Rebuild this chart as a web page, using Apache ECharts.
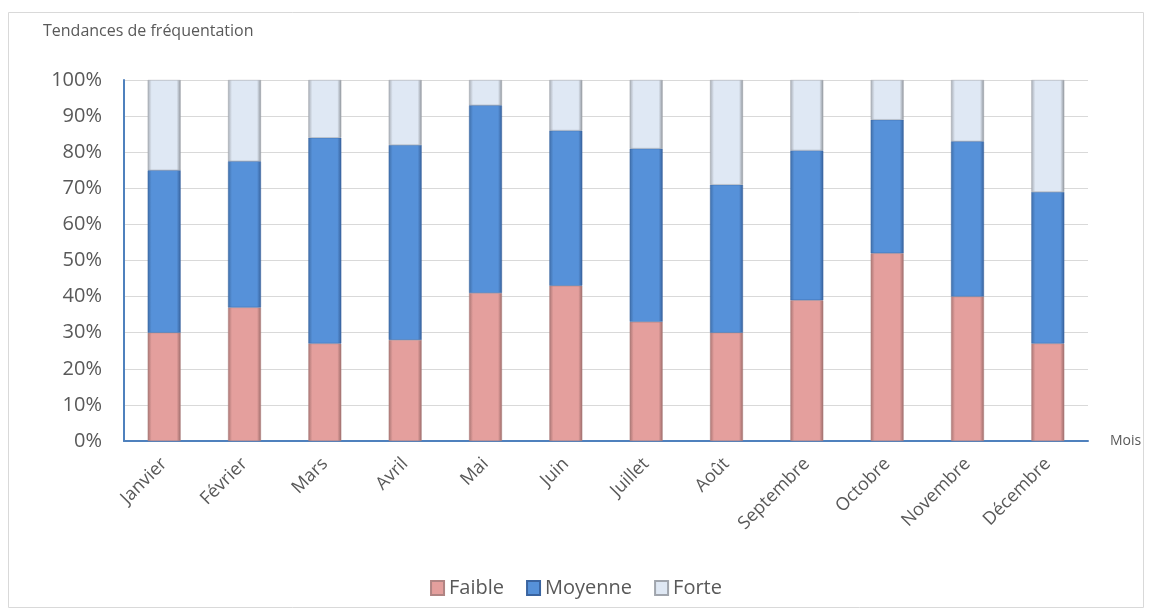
<!DOCTYPE html>
<html><head><meta charset="utf-8">
<script src="https://cdn.jsdelivr.net/npm/echarts@6/dist/echarts.min.js"></script>
<style>html,body{margin:0;padding:0;background:#fff}#c{width:1152px;height:616px}</style>
</head><body><div id="c"></div>
<script>
const months = ['Janvier','Février','Mars','Avril','Mai','Juin','Juillet','Août','Septembre','Octobre','Novembre','Décembre'];
const faible  = [30, 37, 27, 28, 41, 43, 33, 30, 39, 52, 40, 27];
const moyenne = [45, 40.5, 57, 54, 52, 43, 48, 41, 41.5, 37, 43, 42];
const forte   = [25, 22.5, 16, 18, 7, 14, 19, 29, 19.5, 11, 17, 31];
const yTicks = [0,10,20,30,40,50,60,70,80,90,100];

function grad(edge, mid, edge2){
  return {type:'linear',x:0,y:0,x2:1,y2:0,colorStops:[
    {offset:0,color:edge},{offset:0.12,color:mid},{offset:0.88,color:mid},{offset:1,color:edge2}]};
}
const chart = echarts.init(document.getElementById('c'));
const font = 'Open Sans';
chart.setOption({
  animation:false,
  textStyle:{fontFamily:font},
  title:{text:'Tendances de fréquentation',left:38,top:18,textStyle:{fontSize:16,fontWeight:'normal',color:'#595959',fontFamily:font}},
  graphic:[{type:'rect',shape:{x:8.5,y:12.5,width:1135,height:595},style:{fill:'none',stroke:'#d9d9d9',lineWidth:1},silent:true}],
  grid:{left:124,right:64,top:80,bottom:175},
  legend:{top:573,left:'center',icon:'rect',itemWidth:13,itemHeight:14,itemGap:22,
    textStyle:{fontSize:20,color:'#595959',fontFamily:font},data:['Faible','Moyenne','Forte']},
  xAxis:{type:'category',data:months,name:'Mois',nameLocation:'end',nameGap:22,
    nameTextStyle:{fontSize:14,color:'#595959',verticalAlign:'middle'},
    axisLine:{lineStyle:{color:'#4f81bd',width:2}},axisTick:{show:false},
    axisLabel:{rotate:45,fontSize:18,color:'#595959',margin:20,interval:0}},
  yAxis:{type:'value',min:yTicks[0],max:yTicks[yTicks.length-1],interval:10,
    axisLine:{show:true,lineStyle:{color:'#4f81bd',width:2}},axisTick:{show:false},
    axisLabel:{formatter:'{value}%',fontSize:20,color:'#595959',margin:22},
    splitLine:{lineStyle:{color:'#d9d9d9',width:1}}},
  series:[
    {name:'Faible',type:'bar',stack:'t',data:faible,barWidth:'41%',
      itemStyle:{color:grad('#a87573','#e49f9d','#9a6a68'),borderColor:'#b08483',borderWidth:0.5}},
    {name:'Moyenne',type:'bar',stack:'t',data:moyenne,barWidth:'41%',
      itemStyle:{color:grad('#3f6ea8','#5691d9','#36609a'),borderColor:'#3a64a0',borderWidth:0.5}},
    {name:'Forte',type:'bar',stack:'t',data:forte,barWidth:'41%',
      itemStyle:{color:grad('#a8adb5','#dfe8f4','#8f949b'),borderColor:'#a0a5ad',borderWidth:0.5}}
  ]
});
</script></body></html>
